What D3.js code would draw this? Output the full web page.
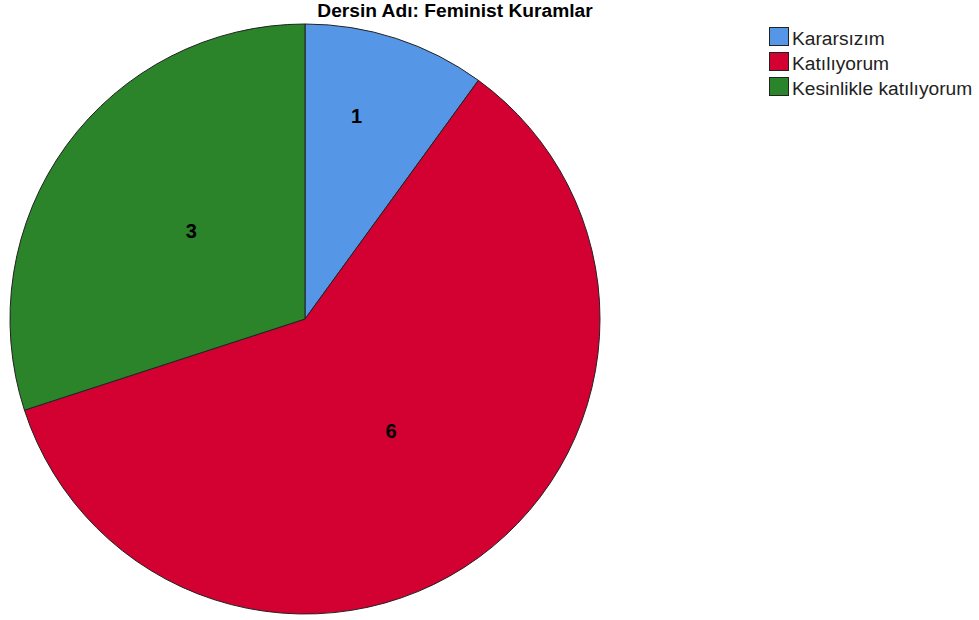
<!DOCTYPE html>
<html><head><meta charset="utf-8">
<script src="https://cdn.jsdelivr.net/npm/d3@7"></script>
<style>html,body{margin:0;padding:0;background:#fff;}svg{display:block;}</style>
</head><body>
<svg id="chart" width="979" height="620"></svg>
<script>
const title = "Dersin Adı: Feminist Kuramlar";
const categories = ["Kararsızım", "Katılıyorum", "Kesinlikle katılıyorum"];
const values = [1, 6, 3];
const colors = ["#5596e6", "#d30032", "#2b832a"];

const svg = d3.select("#chart");
const cx = 305, cy = 319, r = 295;

svg.append("text").attr("x", 455).attr("y", 17).attr("text-anchor", "middle")
  .attr("font-family", "Liberation Sans, Arial, sans-serif").attr("font-weight", "bold")
  .attr("font-size", 19.2).attr("fill", "#000").text(title);

const data = categories.map((c, i) => ({cat: c, value: values[i], color: colors[i]}));
const pie = d3.pie().value(d => d.value).sort(null);
const arcs = pie(data);
const arc = d3.arc().innerRadius(0).outerRadius(r);

const g = svg.append("g").attr("transform", `translate(${cx},${cy})`);
g.selectAll("path").data(arcs).join("path")
  .attr("d", arc).attr("fill", d => d.data.color)
  .attr("stroke", "#222").attr("stroke-width", 1);

g.selectAll("text.lbl").data(arcs).join("text").attr("class", "lbl")
  .attr("transform", d => {
    const span = d.endAngle - d.startAngle;
    const small = span < Math.PI / 3;
    const rr = small ? 0.71 * r : 0.485 * r;
    const a = (d.startAngle + d.endAngle) / 2 - (small ? 0.065 : 0);
    return `translate(${rr * Math.sin(a) + (small ? 0 : 2)},${-rr * Math.cos(a) - (small ? 0 : 4)})`;
  })
  .attr("text-anchor", "middle").attr("dy", "0.36em")
  .attr("font-family", "Liberation Sans, Arial, sans-serif").attr("font-weight", "bold")
  .attr("font-size", 20).attr("fill", "#000").text(d => d.data.value);

const lg = svg.append("g").attr("transform", "translate(769,27)");
const row = lg.selectAll("g").data(data).join("g").attr("transform", (d, i) => `translate(0,${i * 25})`);
row.append("rect").attr("x", 0.5).attr("y", 0.5).attr("width", 19).attr("height", 18)
  .attr("fill", d => d.color).attr("stroke", "#222").attr("stroke-width", 1);
row.append("text").attr("x", 23).attr("y", 18)
  .attr("font-family", "Liberation Sans, Arial, sans-serif").attr("font-size", 19.2)
  .attr("fill", "#222").text(d => d.cat);
</script>
</body></html>
